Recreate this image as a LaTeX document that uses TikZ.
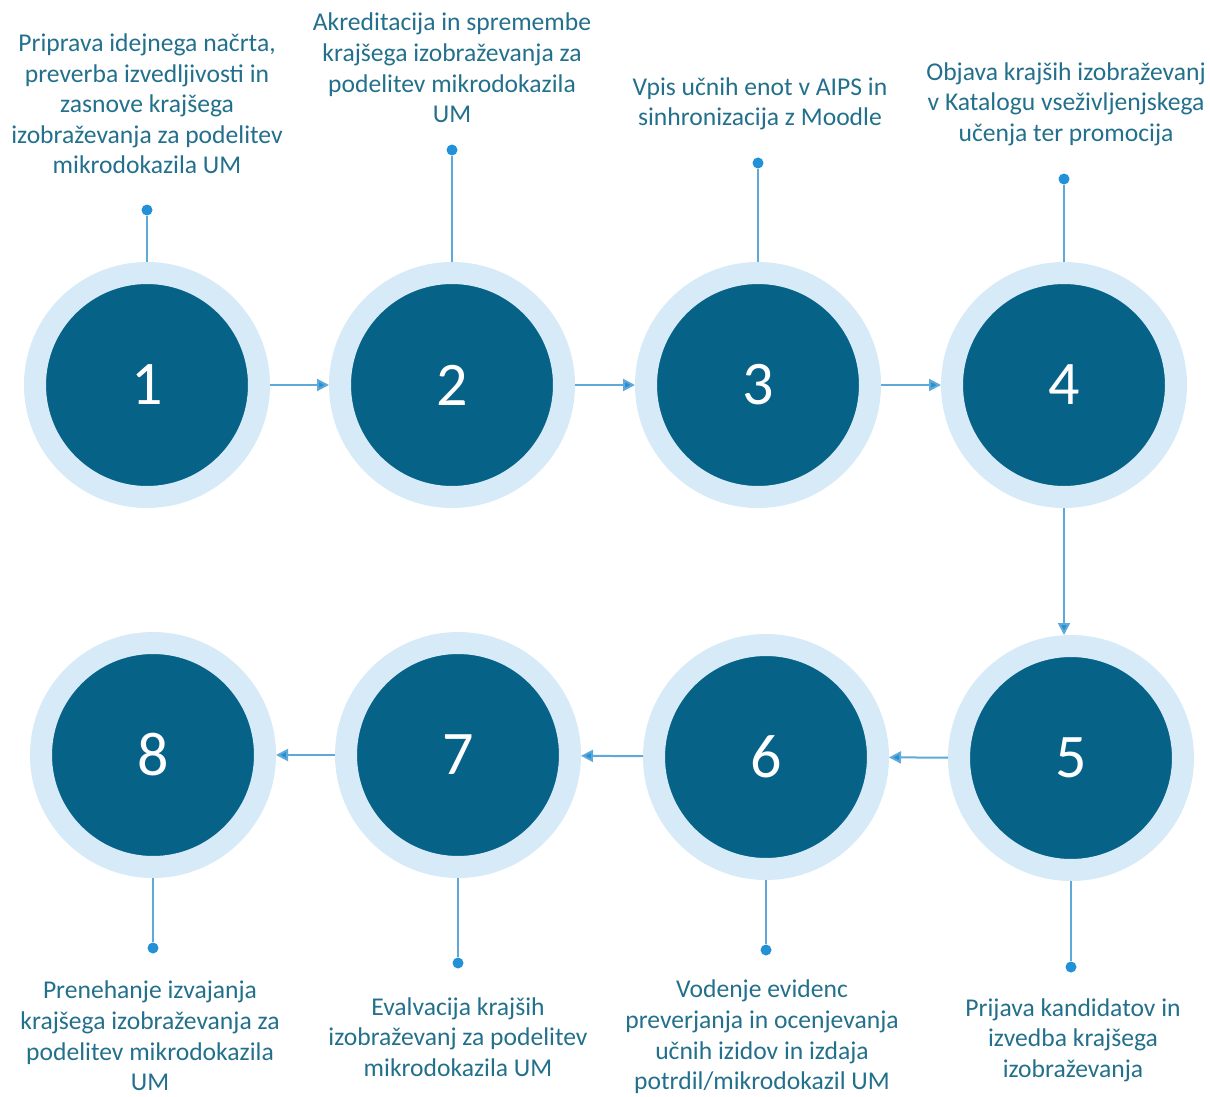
\documentclass[tikz,border=0pt]{standalone}
\usepackage{fontspec}
\setmainfont{Carlito}
\usetikzlibrary{arrows.meta}
\definecolor{darkteal}{RGB}{6,99,135}
\definecolor{ringblue}{RGB}{214,234,248}
\definecolor{txtteal}{RGB}{35,112,140}
\definecolor{stemblue}{RGB}{95,168,215}
\definecolor{dotblue}{RGB}{35,145,215}
\tikzset{
  stage/.style={circle,draw=ringblue,line width=11pt,fill=darkteal,minimum size=112pt,inner sep=0pt,outer sep=5.5pt,text=white,font=\fontsize{31}{36}\selectfont},
  label/.style={align=center,text=txtteal,font=\fontsize{12.8}{15.3}\selectfont,inner sep=0pt},
  dot/.style={circle,fill=dotblue,minimum size=5.5pt,inner sep=0pt},
  stem/.style={stemblue,line width=1pt},
  flow/.style={stemblue,line width=1pt,-{Triangle[width=6pt,length=6pt,fill=dotblue]}}
}
\begin{document}
\begin{tikzpicture}[x=0.5pt,y=-0.5pt]
\useasboundingbox (0,0) rectangle (1210,1097);
% krogi
\node[stage] (c1) at (147,385) {1};
\node[stage] (c2) at (452,385) {2};
\node[stage] (c3) at (758,385) {3};
\node[stage] (c4) at (1064,385) {4};
\node[stage] (c5) at (1071,758) {5};
\node[stage] (c6) at (766,757) {6};
\node[stage] (c7) at (458,755) {7};
\node[stage] (c8) at (153,755) {8};
% puscice
\draw[flow] (c1) -- (c2);
\draw[flow] (c2) -- (c3);
\draw[flow] (c3) -- (c4);
\draw[flow] (c4.south) -- (c4.south |- c5.north);
\draw[flow] (c5) -- (c6);
\draw[flow] (c6) -- (c7);
\draw[flow] (c7) -- (c8);
% tocke
\node[dot] (d1) at (147,210) {};
\node[dot] (d2) at (452,150) {};
\node[dot] (d3) at (758,163) {};
\node[dot] (d4) at (1064,179) {};
\node[dot] (d5) at (1071,967) {};
\node[dot] (d6) at (766,950) {};
\node[dot] (d7) at (458,963) {};
\node[dot] (d8) at (153,948) {};
\foreach \i in {1,...,8} \draw[stem] (c\i) -- (d\i);
% besedila
\node[label] (t1) at (147,104) {Priprava idejnega načrta,\\preverba izvedljivosti in\\zasnove krajšega\\izobraževanja za podelitev\\mikrodokazila UM};
\node[label] (t2) at (452,68) {Akreditacija in spremembe\\krajšega izobraževanja za\\podelitev mikrodokazila\\UM};
\node[label] (t3) at (760,104) {Vpis učnih enot v AIPS in\\sinhronizacija z Moodle};
\node[label] (t4) at (1066,104) {Objava krajših izobraževanj\\v Katalogu vseživljenjskega\\učenja ter promocija};
\node[label] (t5) at (1073,1040) {Prijava kandidatov in\\izvedba krajšega\\izobraževanja};
\node[label] (t6) at (762,1037) {Vodenje evidenc\\preverjanja in ocenjevanja\\učnih izidov in izdaja\\potrdil/mikrodokazil UM};
\node[label] (t7) at (458,1037) {Evalvacija krajših\\izobraževanj za podelitev\\mikrodokazila UM};
\node[label] (t8) at (150,1036) {Prenehanje izvajanja\\krajšega izobraževanja za\\podelitev mikrodokazila\\UM};
\end{tikzpicture}
\end{document}
